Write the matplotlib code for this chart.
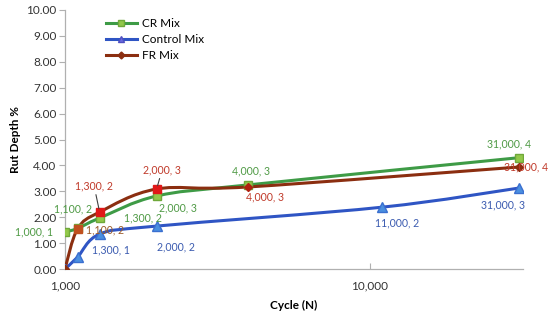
import numpy as np
import matplotlib
matplotlib.use("Agg")
import matplotlib.pyplot as plt
from matplotlib.path import Path
from matplotlib.patches import PathPatch
from matplotlib.lines import Line2D

plt.rcParams['font.family'] = ['Lato', 'DejaVu Sans']

# ---- data ----
cr_x = [1000, 1100, 1300, 2000, 4000, 31000]
cr_y = [1.43, 1.57, 1.97, 2.82, 3.25, 4.30]
ctrl_x = [1000, 1100, 1300, 2000, 11000, 31000]
ctrl_y = [0.00, 0.46, 1.35, 1.66, 2.39, 3.13]
fr_x = [1000, 1100, 1300, 2000, 4000, 31000]
fr_y = [0.00, 1.55, 2.20, 3.09, 3.17, 3.94]
series_names = ["CR Mix", "Control Mix", "FR Mix"]
y_ticks = [0, 1, 2, 3, 4, 5, 6, 7, 8, 9, 10]
x_ticks = [1000, 10000]

fig = plt.figure(figsize=(5.5, 3.2), dpi=100)
ax = fig.add_axes([0.118, 0.159, 0.833, 0.81])
ax.set_xscale('log')
ax.set_xlim(1000, 31900)
ax.set_ylim(0, 10)

PX_X, PX_Y = 304.0, 25.9  # approximate display scaling for smoothing


def smooth_line(xs, ys, color, lw=2.2, z=2):
    u = np.log10(np.array(xs, float)) * PX_X
    v = np.array(ys, float) * PX_Y
    n = len(u)
    verts = [(u[0], v[0])]
    codes = [Path.MOVETO]
    for i in range(n - 1):
        p0 = np.array([u[max(i - 1, 0)], v[max(i - 1, 0)]])
        p1 = np.array([u[i], v[i]])
        p2 = np.array([u[i + 1], v[i + 1]])
        p3 = np.array([u[min(i + 2, n - 1)], v[min(i + 2, n - 1)]])
        c1 = p1 + (p2 - p0) / 6.0
        c2 = p2 - (p3 - p1) / 6.0
        verts += [tuple(c1), tuple(c2), tuple(p2)]
        codes += [Path.CURVE4] * 3
    verts = [(10 ** (a / PX_X), b / PX_Y) for a, b in verts]
    patch = PathPatch(Path(verts, codes), fill=False, edgecolor=color,
                      lw=lw, zorder=z, capstyle='round', joinstyle='round')
    ax.add_patch(patch)


green_line = '#3e9b46'
blue_line = '#2f55c4'
red_line = '#8b2e10'

smooth_line(ctrl_x, ctrl_y, blue_line, z=2)
smooth_line(cr_x, cr_y, green_line, z=3)
smooth_line(fr_x, fr_y, red_line, z=4)

# markers
ax.plot(ctrl_x, ctrl_y, ls='none', marker='^', ms=6.5, mfc='#4a8fe0',
        mec='#3a6fd0', zorder=5)
ax.plot(cr_x, cr_y, ls='none', marker='s', ms=6, mfc='#92c84a',
        mec='#6fa83a', zorder=6)
fr_markers = ['D', 's', 's', 's', 'D', 'D']
fr_mcol = ['#8b2e10', '#c0501f', '#e01818', '#e01818', '#b02010', '#8b2e10']
fr_ms = [4.5, 5.5, 6, 6, 4.5, 4.5]
for xv, yv, m, c, s in zip(fr_x, fr_y, fr_markers, fr_mcol, fr_ms):
    ax.plot([xv], [yv], ls='none', marker=m, ms=s, mfc=c, mec=c, zorder=7)

# data labels
green_txt = '#4f9a45'
blue_txt = '#3b5bb0'
red_txt = '#c03a2a'
lab_fs = 7.6

def lab(xv, yv, dx, dy, color, leader=False):
    txt = f"{xv:,}, {round(yv)}"
    kw = dict(xytext=(dx, dy), textcoords='offset points', ha='center',
              va='center', color=color, fontsize=lab_fs, zorder=9)
    if leader:
        kw['arrowprops'] = dict(arrowstyle='-', color='#404040', lw=0.8,
                                shrinkA=0.5, shrinkB=2.5)
    ax.annotate(txt, (xv, yv), **kw)

cr_off = [(-22, 0), (-3.5, 14), (31, 0), (15, -8.5), (2, 10), (-7, 10)]
for xv, yv, (dx, dy) in zip(cr_x, cr_y, cr_off):
    lab(xv, yv, dx, dy, green_txt)

ctrl_off = {2: (8, -11.5), 3: (14, -15), 4: (11, -11), 5: (-11.5, -12)}
for i, (dx, dy) in ctrl_off.items():
    lab(ctrl_x[i], ctrl_y[i], dx, dy, blue_txt)

fr_off = {1: (20, -1), 2: (-4, 19), 3: (4, 14), 4: (12, -7), 5: (5, 0)}
for i, (dx, dy) in fr_off.items():
    col = '#9a5a2a' if i == 1 else red_txt
    lab(fr_x[i], fr_y[i], dx, dy, col, leader=(i in (2, 3)))

# axes styling
for s in ['top', 'right']:
    ax.spines[s].set_visible(False)
for s in ['left', 'bottom']:
    ax.spines[s].set_color('#b0b0b0')
    ax.spines[s].set_linewidth(0.9)

ax.set_yticks(y_ticks)
ax.set_yticklabels([f"{v:.2f}" for v in y_ticks])
ax.set_xticks(x_ticks)
ax.set_xticklabels([f"{v:,}" for v in x_ticks])
ax.xaxis.set_minor_locator(matplotlib.ticker.NullLocator())
ax.tick_params(axis='y', direction='out', length=4, color='#b0b0b0',
               labelsize=8.5, labelcolor='#333333', pad=2)
ax.tick_params(axis='x', direction='in', length=4, color='#b0b0b0',
               labelsize=8.5, labelcolor='#333333', pad=8)

ax.set_ylabel('Rut Depth %', fontsize=8.5, fontweight='bold', labelpad=4)
ax.set_xlabel('Cycle (N)', fontsize=8.5, fontweight='bold', labelpad=6)

# legend
handles = [
    Line2D([], [], color=green_line, lw=2.2, marker='s', ms=5,
           mfc='#92c84a', mec='#6fa83a'),
    Line2D([], [], color=blue_line, lw=2.2, marker='^', ms=5,
           mfc='#6a6ae0', mec='#5050c0'),
    Line2D([], [], color=red_line, lw=2.2, marker='D', ms=3.5,
           mfc='#8b2e10', mec='#8b2e10'),
]
ax.legend(handles, series_names, loc='upper left',
          bbox_to_anchor=(0.09, 0.97), frameon=False, fontsize=8.5,
          handlelength=2.6, handletextpad=0.45, labelspacing=0.45,
          borderpad=0, borderaxespad=0)

fig.savefig('out.png', dpi=100)
